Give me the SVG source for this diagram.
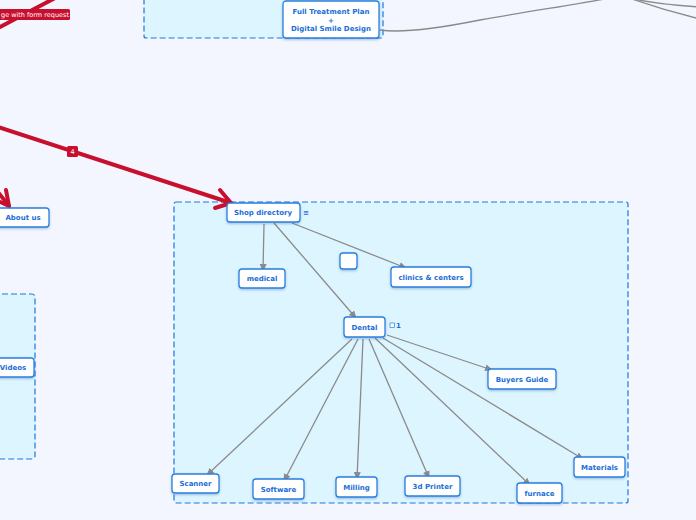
<svg xmlns="http://www.w3.org/2000/svg" width="696" height="520" viewBox="0 0 696 520">
<defs>
<marker id="ah" markerWidth="8" markerHeight="8" refX="7" refY="4" orient="auto" markerUnits="userSpaceOnUse">
<path d="M0,0.5 L8,4 L0,7.5 Z" fill="#8a8a8a"/>
</marker>
<filter id="sh" x="-20%" y="-20%" width="140%" height="160%">
<feDropShadow dx="0" dy="1.2" stdDeviation="0.8" flood-color="#1e5aa8" flood-opacity="0.35"/>
</filter>
</defs>
<style>
.bg{fill:#f3f6fe}
.zone{fill:#ddf5fe;stroke:#1a78e0;stroke-width:1.2;stroke-dasharray:6 3}
.node rect{fill:#ffffff;stroke:#2a7fe0;stroke-width:1.3;filter:url(#sh)}
.node text,.t{font-family:"DejaVu Sans",Verdana,sans-serif;font-weight:bold;font-size:7px;fill:#1a6ed8;text-anchor:middle}
.conn{fill:none;stroke:#8a8a8a;stroke-width:1.3}
.red{fill:none;stroke:#c8102e;stroke-width:4;stroke-linecap:round;stroke-linejoin:round}
.rl{font-family:"DejaVu Sans",Verdana,sans-serif;font-size:6.5px;fill:#ffffff}
</style>
<rect class="bg" x="0" y="0" width="696" height="520"/>

<g id="zones">
<rect class="zone" x="144" y="-5" width="239" height="43" rx="2"/>
<rect class="zone" x="-10" y="294" width="45" height="165" rx="3"/>
<rect class="zone" x="174" y="202" width="454" height="301" rx="2"/>
</g>

<g id="connectors">
<path class="conn" d="M380,30 C400,33 440,28 480,20 C530,11 580,4 610,-2"/>
<path class="conn" d="M630,-2 C650,3 670,5 700,7"/>
<path class="conn" d="M632,-1 C655,7 675,13 700,19"/>
<path class="conn" d="M264,224 L263,271" marker-end="url(#ah)"/>
<path class="conn" d="M274,223 L356,318" marker-end="url(#ah)"/>
<path class="conn" d="M292,223 L406,268" marker-end="url(#ah)"/>
<path class="conn" d="M352,339 L207,475" marker-end="url(#ah)"/>
<path class="conn" d="M358,339 L284,481" marker-end="url(#ah)"/>
<path class="conn" d="M363,339 L357,479" marker-end="url(#ah)"/>
<path class="conn" d="M369,339 L429,478" marker-end="url(#ah)"/>
<path class="conn" d="M375,338 L530,485" marker-end="url(#ah)"/>
<path class="conn" d="M383,338 L583,459" marker-end="url(#ah)"/>
<path class="conn" d="M387,335 L492,370" marker-end="url(#ah)"/>
<path class="red" d="M-2,28 L57,-3"/>
<path class="red" d="M-5,126 L231,203"/>
<path class="red" d="M220,190 L231,203 L215,208"/>
<path class="red" d="M-10,182 L9,206"/>
<path class="red" d="M6,190 L9,206 L-2,201"/>
</g>

<g id="label-form">
<rect x="-2" y="9" width="72" height="11" rx="1.5" fill="#c8102e"/>
<text class="rl" x="1" y="17">ge with form request</text>
</g>
<g id="label-4">
<rect x="67" y="146" width="11" height="11" rx="1.5" fill="#c8102e"/>
<text class="rl" x="72.5" y="154" text-anchor="middle">4</text>
</g>

<g id="node-fulltreatment" class="node">
<rect x="283" y="1" width="96" height="37" rx="3"/>
<text x="331" y="14">Full Treatment Plan</text>
<text x="331" y="22.5">+</text>
<text x="331" y="31">Digital Smile Design</text>
</g>
<g id="node-about" class="node">
<rect x="-3" y="208" width="52" height="19" rx="3"/>
<text x="23" y="220">About us</text>
</g>
<g id="node-videos" class="node">
<rect x="-6" y="358" width="40" height="19" rx="3"/>
<text x="13" y="370">Videos</text>
</g>
<g id="node-shop" class="node">
<rect x="227" y="203" width="73" height="19" rx="3"/>
<text x="263" y="215">Shop directory</text>
</g>
<text class="t" x="306" y="215" font-size="8">≡</text>
<g id="node-medical" class="node">
<rect x="239" y="269" width="46" height="19" rx="3"/>
<text x="262" y="281">medical</text>
</g>
<g id="node-empty" class="node">
<rect x="340" y="253" width="17" height="16" rx="3"/>
</g>
<g id="node-clinics" class="node">
<rect x="391" y="267" width="80" height="20" rx="3"/>
<text x="431" y="280">clinics &amp; centers</text>
</g>
<g id="node-dental" class="node">
<rect x="344" y="317" width="41" height="20" rx="3"/>
<text x="364.5" y="330">Dental</text>
</g>
<g id="dental-note">
<rect x="390" y="323" width="4.5" height="4.5" fill="#ffffff" stroke="#2a7fe0" stroke-width="0.7"/>
<text class="t" x="398.5" y="328" font-size="5.5" font-weight="normal">1</text>
</g>
<g id="node-buyers" class="node">
<rect x="488" y="369" width="68" height="20" rx="3"/>
<text x="522" y="382">Buyers Guide</text>
</g>
<g id="node-scanner" class="node">
<rect x="172" y="474" width="47" height="19" rx="3"/>
<text x="195.5" y="486">Scanner</text>
</g>
<g id="node-software" class="node">
<rect x="253" y="479" width="51" height="20" rx="3"/>
<text x="278.5" y="492">Software</text>
</g>
<g id="node-milling" class="node">
<rect x="336" y="477" width="41" height="20" rx="3"/>
<text x="356.5" y="490">Milling</text>
</g>
<g id="node-3dprinter" class="node">
<rect x="405" y="476" width="55" height="20" rx="3"/>
<text x="432.5" y="489">3d Printer</text>
</g>
<g id="node-furnace" class="node">
<rect x="517" y="483" width="45" height="20" rx="3"/>
<text x="539.5" y="496">furnace</text>
</g>
<g id="node-materials" class="node">
<rect x="574" y="457" width="51" height="20" rx="3"/>
<text x="599.5" y="470">Materials</text>
</g>
</svg>
